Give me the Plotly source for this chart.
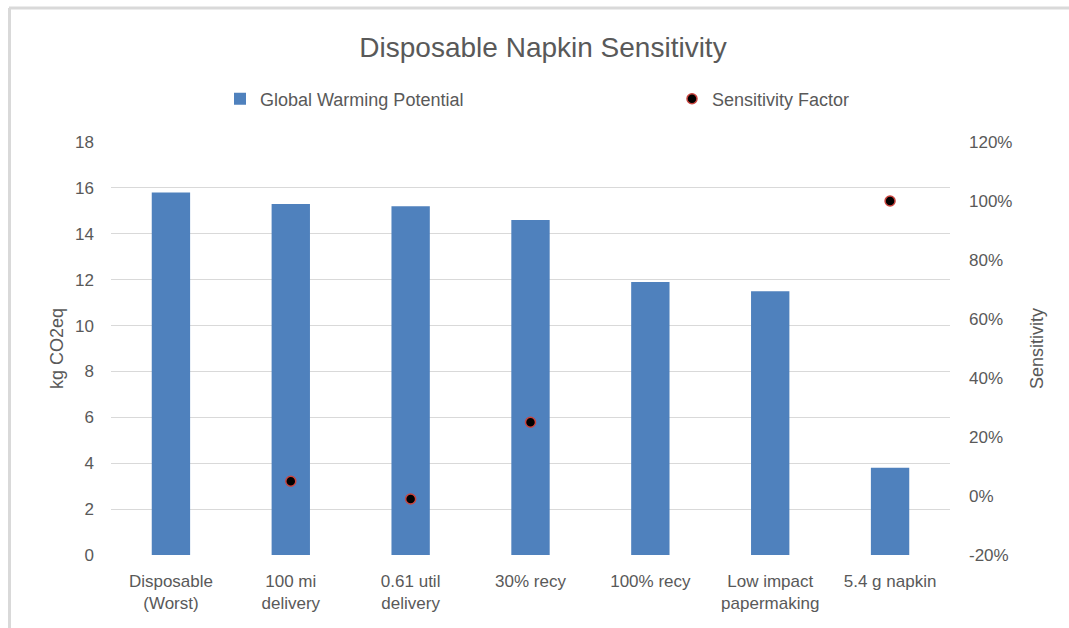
import plotly.graph_objects as go

categories = ["Disposable<br>(Worst)", "100 mi<br>delivery", "0.61 util<br>delivery", "30% recy",
              "100% recy", "Low impact<br>papermaking", "5.4 g napkin"]
gwp_kg = [15.8, 15.3, 15.2, 14.6, 11.9, 11.5, 3.8]
sensitivity = [None, 0.05, -0.01, 0.25, None, None, 1.00]

left_ticks = [0, 2, 4, 6, 8, 10, 12, 14, 16, 18]
right_ticks = [-0.2, 0.0, 0.2, 0.4, 0.6, 0.8, 1.0, 1.2]
right_labels = ["-20%", "0%", "20%", "40%", "60%", "80%", "100%", "120%"]

W, H = 1069, 628
ML, MR, MT, MB = 111, 119, 142, 73
PW, PH = W - ML - MR, H - MT - MB

FONT = "Liberation Sans, Arial, sans-serif"
GREY = "#595959"

fig = go.Figure()
fig.add_trace(go.Bar(
    x=categories, y=gwp_kg, name="Global Warming Potential",
    marker=dict(color="#4f81bd", line=dict(color="#4f81bd", width=0)),
    width=0.32, yaxis="y", legend="legend",
))
fig.add_trace(go.Scatter(
    x=categories, y=sensitivity, name="Sensitivity Factor", mode="markers",
    marker=dict(color="black", size=10, line=dict(color="#c9453f", width=1.5)),
    yaxis="y2", legend="legend2",
))

def px_x(p):
    return (p - ML) / PW

def px_y(p):
    return 1 - (p - MT) / PH

legend_common = dict(orientation="h", xanchor="left", yanchor="middle",
                     font=dict(size=18, color=GREY), bgcolor="rgba(0,0,0,0)",
                     itemwidth=30)

fig.update_layout(
    width=W, height=H,
    margin=dict(l=ML, r=MR, t=MT, b=MB, autoexpand=False),
    paper_bgcolor="white", plot_bgcolor="white",
    font=dict(family=FONT, color=GREY, size=17),
    title=dict(text="Disposable Napkin Sensitivity", x=px_x(543), xref="paper",
               xanchor="center", y=1 - 47 / H, yanchor="middle",
               font=dict(size=28, color=GREY)),
    showlegend=True,
    legend=dict(x=px_x(220), y=px_y(99), **legend_common),
    legend2=dict(x=px_x(672), y=px_y(99), **legend_common),
    xaxis=dict(type="category", showgrid=False, showline=False, ticks="",
               tickfont=dict(size=17, color=GREY), zeroline=False,
               ticklabelstandoff=14),
    yaxis=dict(range=[0, 18], tickvals=left_ticks, showgrid=True, gridcolor="#d9d9d9",
               gridwidth=1, zeroline=False, showline=False, ticks="",
               tickfont=dict(size=17, color=GREY), ticklabelstandoff=16,
               title=dict(text="kg CO2eq", font=dict(size=18, color=GREY), standoff=6)),
    yaxis2=dict(range=[-0.2, 1.2], tickvals=right_ticks, ticktext=right_labels,
                overlaying="y", side="right", showgrid=False, zeroline=False,
                showline=False, ticks="", tickfont=dict(size=17, color=GREY),
                ticklabelstandoff=18,
                title=dict(text="Sensitivity", font=dict(size=18, color=GREY), standoff=18)),
    shapes=[
        dict(type="line", xref="paper", yref="paper", x0=px_x(9), x1=px_x(W + 5),
             y0=px_y(8), y1=px_y(8), line=dict(color="#d9d9d9", width=3)),
        dict(type="line", xref="paper", yref="paper", x0=px_x(9.5), x1=px_x(9.5),
             y0=px_y(8), y1=px_y(H + 5), line=dict(color="#d9d9d9", width=3)),
    ],
)

fig.write_html("out.html")
